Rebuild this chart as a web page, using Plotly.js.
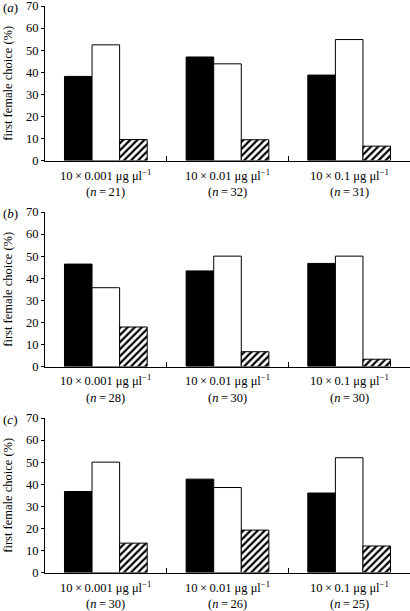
<!DOCTYPE html>
<html>
<head>
<meta charset="utf-8">
<script src="https://cdn.plot.ly/plotly-3.0.1.min.js"></script>
<style>html,body{margin:0;padding:0;background:#fff;}#chart{width:410px;height:611px;}</style>
</head>
<body>
<div id="chart"></div>
<script>
// categories (doses) and sample sizes
var categories = ["10\u2009×\u20090.001 μg μl<sup>−1</sup>", "10\u2009×\u20090.01 μg μl<sup>−1</sup>", "10\u2009×\u20090.1 μg μl<sup>−1</sup>"];
var nA = [21, 32, 31];
var nB = [28, 30, 30];
var nC = [30, 26, 25];
var panelLabels = ["(<i>a</i>)", "(<i>b</i>)", "(<i>c</i>)"];
var yTickVals = [0, 10, 20, 30, 40, 50, 60, 70];

// first female choice (%) — black, white, hatched bars
var blackA = [38.1, 46.9, 38.7];
var whiteA = [52.4, 43.8, 54.8];
var hatchA = [9.5, 9.4, 6.5];

var blackB = [46.4, 43.3, 46.7];
var whiteB = [35.7, 50.0, 50.0];
var hatchB = [17.9, 6.7, 3.3];

var blackC = [36.7, 42.3, 36.0];
var whiteC = [50.0, 38.5, 52.0];
var hatchC = [13.3, 19.2, 12.0];

var FONT = "'Liberation Serif', 'Times New Roman', Times, serif";
var panels = [
  {b: blackA, w: whiteA, h: hatchA, n: nA},
  {b: blackB, w: whiteB, h: hatchB, n: nB},
  {b: blackC, w: whiteC, h: hatchC, n: nC}
];
// pixel positions of each panel (top, bottom)
var W = 410, H = 611;
var pxTop = [6, 212, 418];
var pxBot = [160.5, 366.5, 572.5];
var xL = 45, xR = 410;

var data = [];
var layout = {
  width: W, height: H,
  margin: {l: 0, r: 0, t: 0, b: 0},
  paper_bgcolor: "#fff", plot_bgcolor: "#fff",
  showlegend: false,
  barmode: "group", bargap: 0.32, bargroupgap: 0,
  font: {family: FONT, size: 13, color: "#000"},
  annotations: []
};

panels.forEach(function(p, i) {
  var xa = i === 0 ? "x" : "x" + (i + 1);
  var ya = i === 0 ? "y" : "y" + (i + 1);
  var cats = categories.map(function(c, k){ return "c" + k; });
  data.push({type: "bar", x: cats, y: p.b, xaxis: xa, yaxis: ya,
    marker: {color: "#000", line: {color: "#000", width: 1}}, hoverinfo: "none"});
  data.push({type: "bar", x: cats, y: p.w, xaxis: xa, yaxis: ya,
    marker: {color: "#fff", line: {color: "#000", width: 1}}, hoverinfo: "none"});
  data.push({type: "bar", x: cats, y: p.h, xaxis: xa, yaxis: ya,
    marker: {color: "#fff", line: {color: "#000", width: 1},
      pattern: {shape: "/", fgcolor: "#000", bgcolor: "#fff", size: 5, solidity: 0.45}}, hoverinfo: "none"});

  var y0 = 1 - pxBot[i] / H, y1 = 1 - pxTop[i] / H;
  var xkey = i === 0 ? "xaxis" : "xaxis" + (i + 1);
  var ykey = i === 0 ? "yaxis" : "yaxis" + (i + 1);
  layout[xkey] = {
    domain: [xL / W, xR / W], anchor: ya,
    type: "category", range: [-0.5, 2.5],
    tickmode: "array", tickvals: cats, showticklabels: false,
    tickson: "boundaries", ticks: "inside", ticklen: 5, tickwidth: 1, tickcolor: "#000",
    showline: true, linecolor: "#000", linewidth: 1,
    showgrid: false, zeroline: false
  };
  layout[ykey] = {
    domain: [y0, y1], anchor: xa,
    range: [0, 70], tickvals: yTickVals,
    ticks: "outside", ticklen: 3, tickwidth: 1, tickcolor: "#000",
    showline: true, linecolor: "#000", linewidth: 1,
    showgrid: false, zeroline: false, ticklabeloverflow: "allow",
    tickfont: {family: FONT, size: 12.5, color: "#000"}
  };
  // category labels: two lines each
  cats.forEach(function(c, k) {
    layout.annotations.push({
      text: categories[k], xref: xa, yref: "paper", x: c,
      y: 1 - (pxBot[i] + 14) / H, xanchor: "center", yanchor: "middle",
      showarrow: false, font: {family: FONT, size: 12.5, color: "#000"}
    });
    layout.annotations.push({
      text: "(<i>n</i>\u2009=\u2009" + p.n[k] + ")", xref: xa, yref: "paper", x: c,
      y: 1 - (pxBot[i] + 31) / H, xanchor: "center", yanchor: "middle",
      showarrow: false, font: {family: FONT, size: 12.5, color: "#000"}
    });
  });
  layout.annotations.push({
    text: "first female choice (%)", textangle: -90,
    xref: "paper", yref: "paper", x: 8.5 / W, y: (y0 + y1) / 2,
    xanchor: "center", yanchor: "middle", showarrow: false,
    font: {family: FONT, size: 12.5, color: "#000"}
  });
  layout.annotations.push({
    text: panelLabels[i],
    xref: "paper", yref: "paper", x: 1 / W, y: 1 - (pxTop[i] + 1) / H,
    xanchor: "left", yanchor: "middle", showarrow: false,
    font: {family: FONT, size: 13, color: "#000"}
  });
});

Plotly.newPlot("chart", data, layout, {displayModeBar: false, staticPlot: true});
</script>
</body>
</html>
